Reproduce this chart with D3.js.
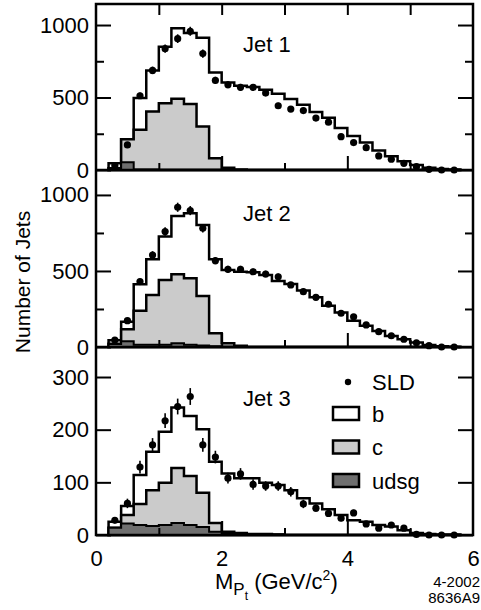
<!DOCTYPE html>
<html>
<head>
<meta charset="utf-8">
<script src="https://cdn.jsdelivr.net/npm/d3@7"></script>
<style>
  body { margin: 0; background: #fff; }
  svg { display: block; }
  text { font-family: "Liberation Sans", Arial, Helvetica, sans-serif; fill: #000; }
</style>
</head>
<body>
<div id="chart"></div>
<script>
// bin centres in M_Pt (GeV/c^2), bins are 0.2 wide
const massBins = [0.3, 0.5, 0.7, 0.9, 1.1, 1.3, 1.5, 1.7, 1.9, 2.1, 2.3, 2.5, 2.7, 2.9, 3.1,
                  3.3, 3.5, 3.7, 3.9, 4.1, 4.3, 4.5, 4.7, 4.9, 5.1, 5.3, 5.5, 5.7];
const binWidth = 0.2;

// Jet 1: SLD data, errors, MC stacked levels (b+c+udsg, c+udsg, udsg)
const jet1Data  = [30, 173, 512, 687, 837, 906, 957, 803, 618, 588, 570, 570, 531, 443, 420, 410, 358, 330, 230, 189, 154, 97, 74, 46, 23, 5, 0, 0];
const jet1Err   = [6, 13, 23, 26, 29, 30, 31, 28, 25, 24, 24, 24, 23, 21, 20, 20, 19, 18, 15, 14, 12, 10, 9, 7, 5, 2, 1, 1];
const jet1Total = [46, 212, 496, 687, 850, 978, 945, 912, 673, 604, 581, 572, 553, 526, 489, 450, 400, 360, 290, 235, 190, 135, 95, 60, 35, 16, 7, 3];
const jet1CU    = [12, 212, 277, 403, 461, 491, 455, 300, 81, 16, 3, 0, 0, 0, 0, 0, 0, 0, 0, 0, 0, 0, 0, 0, 0, 0, 0, 0];
const jet1U     = [12, 53, 3, 3, 2, 2, 2, 2, 1, 0, 0, 0, 0, 0, 0, 0, 0, 0, 0, 0, 0, 0, 0, 0, 0, 0, 0, 0];

// Jet 2
const jet2Data  = [46, 173, 430, 605, 759, 919, 897, 781, 568, 511, 511, 495, 480, 462, 408, 364, 327, 281, 222, 199, 145, 101, 74, 51, 28, 9, 0, 0];
const jet2Err   = [7, 13, 21, 25, 28, 30, 30, 28, 24, 23, 23, 22, 22, 21, 20, 19, 18, 17, 15, 14, 12, 10, 9, 7, 5, 3, 1, 1];
const jet2Total = [44, 166, 413, 577, 726, 862, 880, 803, 577, 507, 495, 491, 474, 434, 415, 371, 327, 272, 227, 172, 139, 106, 73, 51, 29, 13, 5, 2];
const jet2CU    = [22, 116, 239, 342, 441, 478, 452, 336, 90, 24, 8, 0, 0, 0, 0, 0, 0, 0, 0, 0, 0, 0, 0, 0, 0, 0, 0, 0];
const jet2U     = [20, 38, 15, 15, 15, 25, 15, 10, 5, 2, 0, 0, 0, 0, 0, 0, 0, 0, 0, 0, 0, 0, 0, 0, 0, 0, 0, 0];

// Jet 3
const jet3Data  = [28, 60, 129, 171, 217, 244, 263, 171, 148, 108, 116, 96, 93, 93, 82, 59, 51, 41, 32, 42, 21, 13, 19, 13, 1, 0, 0, 0];
const jet3Err   = [6, 9, 12, 13, 14, 15, 16, 13, 12, 10, 11, 10, 9, 9, 9, 8, 7, 6, 6, 6, 5, 4, 4, 4, 1, 1, 1, 1];
const jet3Total = [25, 55, 114, 158, 196, 242, 226, 201, 139, 117, 108, 108, 99, 95, 85, 70, 60, 49, 38, 28, 25, 19, 16, 9, 4, 2, 1, 1];
const jet3CU    = [14, 38, 59, 85, 99, 127, 112, 80, 23, 6, 4, 2, 2, 1, 0, 0, 0, 0, 0, 0, 0, 0, 0, 0, 0, 0, 0, 0];
const jet3U     = [14, 22, 19, 17, 19, 23, 19, 15, 6, 3, 3, 2, 2, 1, 0, 0, 0, 0, 0, 0, 0, 0, 0, 0, 0, 0, 0, 0];

// tick labels
const bigTicks = [0, 500, 1000];
const bigMinor = [250, 750];
const smallTicks = [0, 100, 200, 300];
const xTicks = [0, 2, 4, 6];
const xMinor = [1, 3, 5];
const xMid = [2, 4];

const legendItems = ["b", "c", "udsg"];
const legendFill = ["#ffffff", "#cbcbcb", "#6f6f6f"];

const W = 481, H = 610;
const left = 96, right = 473;
const font = "Liberation Sans, Arial, Helvetica, sans-serif";
const fmt = d3.format("d");

const svg = d3.select("#chart").append("svg")
    .attr("width", W)
    .attr("height", H);

const x = d3.scaleLinear().domain([0, 6]).range([left, right]);

const panels = [
    { label: "Jet 1", data: jet1Data, err: jet1Err, total: jet1Total, cu: jet1CU, u: jet1U,
      top: 4, bottom: 170, yMax: 1145, major: bigTicks, minor: bigMinor, labelY: 52 },
    { label: "Jet 2", data: jet2Data, err: jet2Err, total: jet2Total, cu: jet2CU, u: jet2U,
      top: 170, bottom: 347, yMax: 1164, major: bigTicks, minor: bigMinor, labelY: 221 },
    { label: "Jet 3", data: jet3Data, err: jet3Err, total: jet3Total, cu: jet3CU, u: jet3U,
      top: 347, bottom: 535, yMax: 357, major: smallTicks, minor: [], labelY: 406 }
];

// step outline points from bin values
function stepPoints(vals) {
    const pts = vals.map((v, i) => [massBins[i] - binWidth / 2, v]);
    pts.push([massBins[massBins.length - 1] + binWidth / 2, vals[vals.length - 1]]);
    return pts;
}

function styleAxis(g) {
    g.select(".domain").remove();
    g.attr("font-family", font).attr("font-size", 22);
    g.selectAll(".tick line").attr("stroke-width", 2);
}

panels.forEach(p => {
    const y = d3.scaleLinear().domain([0, p.yMax]).range([p.bottom, p.top]);

    const area = d3.area()
        .curve(d3.curveStepAfter)
        .x(d => x(d[0]))
        .y0(y(0))
        .y1(d => y(d[1]));

    const g = svg.append("g");

    g.append("path")
        .attr("d", area(stepPoints(p.total)))
        .attr("fill", legendFill[0])
        .attr("stroke", "#000")
        .attr("stroke-width", 2.5);

    g.append("path")
        .attr("d", area(stepPoints(p.cu)))
        .attr("fill", legendFill[1])
        .attr("stroke", "#000")
        .attr("stroke-width", 2.5);

    g.append("path")
        .attr("d", area(stepPoints(p.u)))
        .attr("fill", legendFill[2])
        .attr("stroke", "#000")
        .attr("stroke-width", 2);

    // error bars
    g.append("g")
        .selectAll("line")
        .data(p.data)
        .join("line")
        .attr("x1", (d, i) => x(massBins[i]))
        .attr("x2", (d, i) => x(massBins[i]))
        .attr("y1", (d, i) => y(d - p.err[i]))
        .attr("y2", (d, i) => y(d + p.err[i]))
        .attr("stroke", "#000")
        .attr("stroke-width", 1.6);

    // SLD points
    g.append("g")
        .selectAll("circle")
        .data(p.data)
        .join("circle")
        .attr("cx", (d, i) => x(massBins[i]))
        .attr("cy", d => y(d))
        .attr("r", 3.6)
        .attr("fill", "#000");

    // left ticks + labels
    svg.append("g")
        .attr("transform", `translate(${left},0)`)
        .call(d3.axisLeft(y).tickValues(p.major).tickSizeInner(-15).tickSizeOuter(0).tickPadding(7).tickFormat(fmt))
        .call(styleAxis);
    svg.append("g")
        .attr("transform", `translate(${left},0)`)
        .call(d3.axisLeft(y).tickValues(p.minor).tickSizeInner(-8).tickSizeOuter(0).tickFormat(""))
        .call(styleAxis);

    // right ticks
    svg.append("g")
        .attr("transform", `translate(${right},0)`)
        .call(d3.axisRight(y).tickValues(p.major).tickSizeInner(-15).tickSizeOuter(0).tickFormat(""))
        .call(styleAxis);
    svg.append("g")
        .attr("transform", `translate(${right},0)`)
        .call(d3.axisRight(y).tickValues(p.minor).tickSizeInner(-8).tickSizeOuter(0).tickFormat(""))
        .call(styleAxis);

    // bottom ticks of each panel
    svg.append("g")
        .attr("transform", `translate(0,${p.bottom})`)
        .call(d3.axisBottom(x).tickValues(xMid).tickSizeInner(-14).tickSizeOuter(0).tickFormat(""))
        .call(styleAxis);
    svg.append("g")
        .attr("transform", `translate(0,${p.bottom})`)
        .call(d3.axisBottom(x).tickValues(xMinor).tickSizeInner(-7).tickSizeOuter(0).tickFormat(""))
        .call(styleAxis);

    // panel label
    svg.append("text")
        .attr("x", 243)
        .attr("y", p.labelY)
        .attr("font-size", 22)
        .text(p.label);
});

// top ticks of first panel
svg.append("g")
    .attr("transform", `translate(0,${panels[0].top})`)
    .call(d3.axisTop(x).tickValues([1, 2, 3, 4, 5]).tickSizeInner(-11).tickSizeOuter(0).tickFormat(""))
    .call(styleAxis);

// x tick labels
svg.append("g")
    .attr("transform", `translate(0,${panels[2].bottom})`)
    .call(d3.axisBottom(x).tickValues(xTicks).tickSizeInner(0).tickSizeOuter(0).tickPadding(15).tickFormat(fmt))
    .call(styleAxis);

// frame and panel separators
svg.append("rect")
    .attr("x", left)
    .attr("y", panels[0].top)
    .attr("width", right - left)
    .attr("height", panels[2].bottom - panels[0].top)
    .attr("fill", "none")
    .attr("stroke", "#000")
    .attr("stroke-width", 2.5);

svg.append("g")
    .selectAll("line")
    .data([panels[0].bottom, panels[1].bottom])
    .join("line")
    .attr("x1", left)
    .attr("x2", right)
    .attr("y1", d => d)
    .attr("y2", d => d)
    .attr("stroke", "#000")
    .attr("stroke-width", 2.5);

// legend (in Jet 3 panel)
const legend = svg.append("g");
legend.append("circle")
    .attr("cx", 348)
    .attr("cy", 382)
    .attr("r", 3.2)
    .attr("fill", "#000");
legend.append("text")
    .attr("x", 372)
    .attr("y", 382)
    .attr("dy", "0.36em")
    .attr("font-size", 22)
    .text("SLD");

legend.selectAll("rect")
    .data(legendItems)
    .join("rect")
    .attr("x", 333)
    .attr("y", (d, i) => 407 + i * 33.5)
    .attr("width", 26)
    .attr("height", 13)
    .attr("fill", (d, i) => legendFill[i])
    .attr("stroke", "#000")
    .attr("stroke-width", 2.5);

legend.selectAll("text.item")
    .data(legendItems)
    .join("text")
    .attr("class", "item")
    .attr("x", 372)
    .attr("y", (d, i) => 414 + i * 33.5)
    .attr("dy", "0.36em")
    .attr("font-size", 22)
    .text(d => d);

// axis titles
svg.append("text")
    .attr("transform", "translate(22,282) rotate(-90)")
    .attr("text-anchor", "middle")
    .attr("dy", "0.36em")
    .attr("font-size", 21)
    .text("Number of Jets");

const xTitle = svg.append("text")
    .attr("x", 215)
    .attr("y", 589)
    .attr("font-size", 22);
xTitle.append("tspan").text("M");
xTitle.append("tspan").attr("font-size", 17).attr("dy", 6).text("P");
xTitle.append("tspan").attr("font-size", 12).attr("dy", 5).text("t");
xTitle.append("tspan").attr("dy", -11).text(" (GeV/c");
xTitle.append("tspan").attr("font-size", 14).attr("dy", -9).text("2");
xTitle.append("tspan").attr("dy", 9).text(")");

// figure id
svg.append("text")
    .attr("x", 480)
    .attr("y", 587)
    .attr("text-anchor", "end")
    .attr("font-size", 15)
    .text("4-2002");
svg.append("text")
    .attr("x", 480)
    .attr("y", 603)
    .attr("text-anchor", "end")
    .attr("font-size", 15)
    .text("8636A9");
</script>
</body>
</html>
